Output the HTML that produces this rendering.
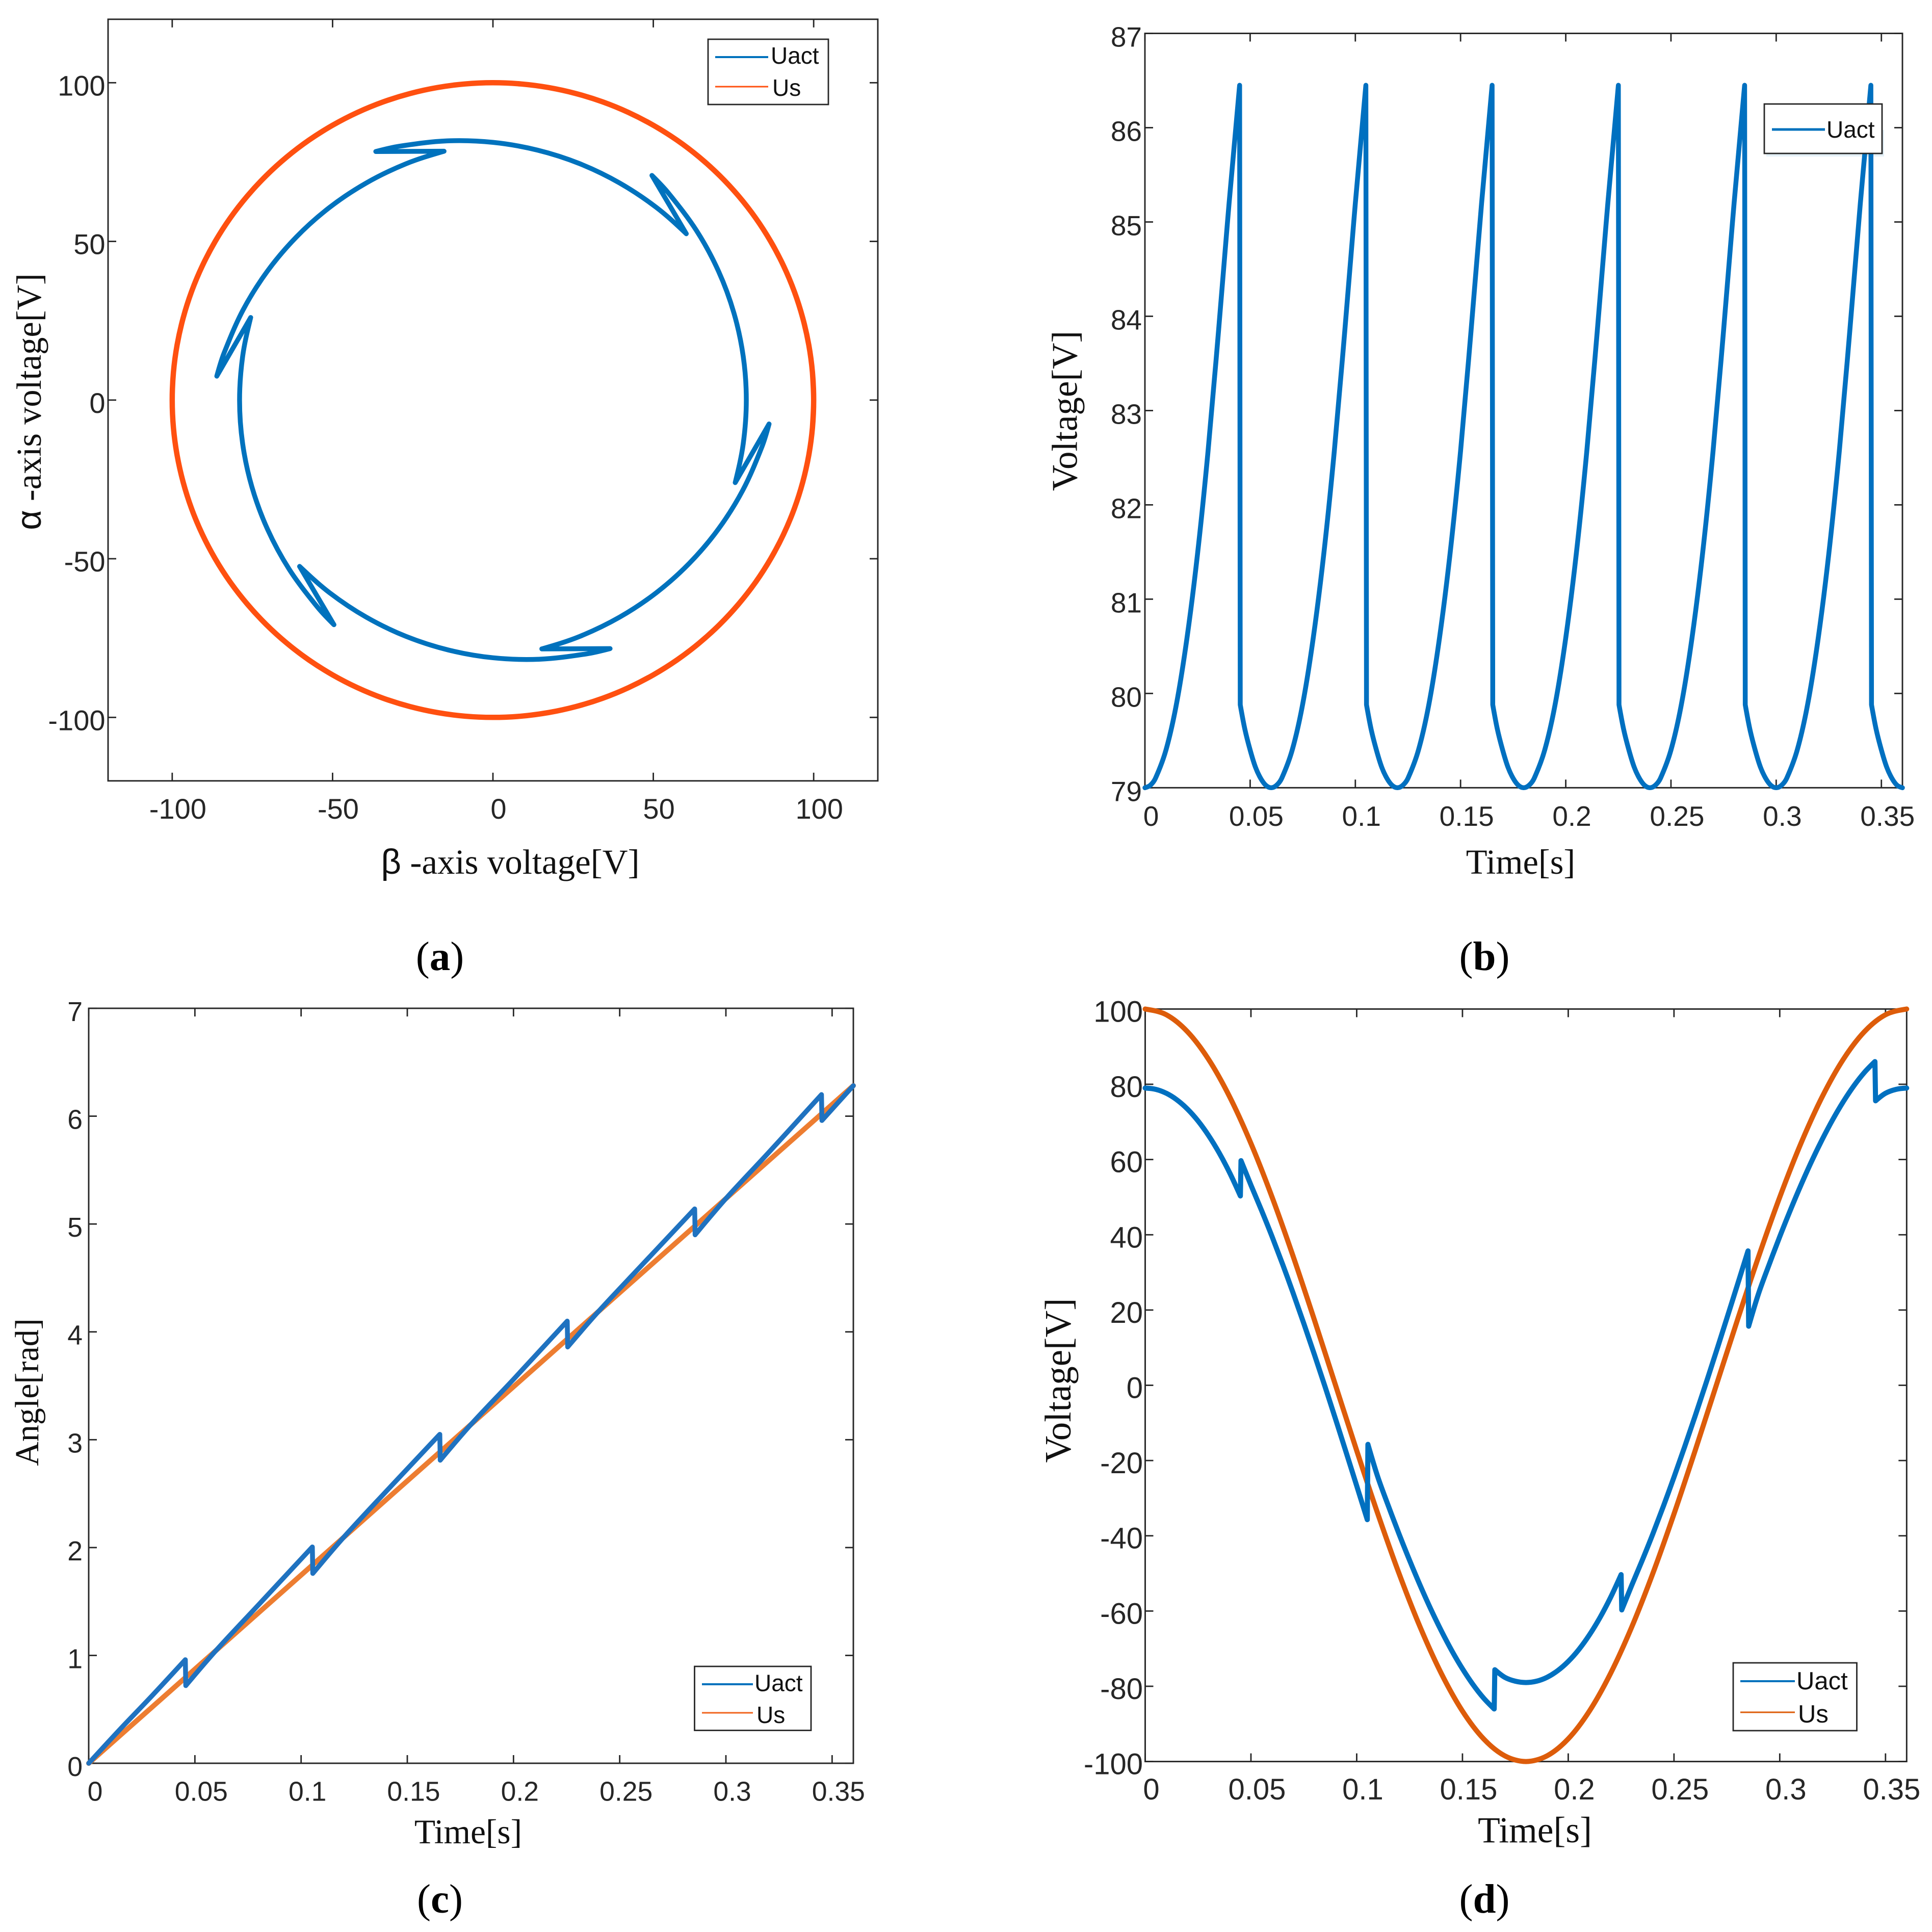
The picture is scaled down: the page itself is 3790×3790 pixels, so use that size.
<!DOCTYPE html>
<html lang="en">
<head>
<meta charset="utf-8">
<title>Voltage vector trajectory, magnitude, angle and alpha-axis voltage</title>
<style>
html,body{margin:0;padding:0;background:#fff;}
svg{display:block;}
.tick-label{font-family:"Liberation Sans",Arial,sans-serif;fill:#262626;}
.axis-title{font-family:"Liberation Serif","Times New Roman",serif;fill:#111;}
.sans{font-family:"Liberation Sans",Arial,sans-serif;}
.legend-text{font-family:"Liberation Sans",Arial,sans-serif;fill:#111;font-size:46px;}
.caption{font-family:"Liberation Serif","Times New Roman",serif;fill:#000;font-size:81px;text-anchor:middle;}
.frame{fill:none;stroke:#262626;stroke-width:2.9;}
.legend-box{fill:#fff;stroke:#262626;stroke-width:2.8;}
</style>
</head>
<body>
<svg id="figure" xmlns="http://www.w3.org/2000/svg" width="3790" height="3790" viewBox="0 0 3790 3790">
  <rect x="0" y="0" width="3790" height="3790" fill="#fff"/>

  <g id="panel-a">
    <rect class="frame" x="212" y="37.8" width="1510" height="1494"/>
    <text class="axis-title" font-size="69" text-anchor="middle" x="1001" y="1714"><tspan class="sans">β</tspan> -axis voltage[V]</text>
    <text class="axis-title" font-size="68.5" text-anchor="middle" transform="translate(80,788) rotate(-90)"><tspan class="sans">α</tspan> -axis voltage[V]</text>
    <text class="caption" x="863" y="1903">(<tspan font-weight="bold">a</tspan>)</text>
  </g>
  <g id="panel-b">
    <rect class="frame" x="2246" y="65.5" width="1486" height="1479.8"/>
    <text class="axis-title" font-size="68.5" text-anchor="middle" x="2983" y="1714">Time[s]</text>
    <text class="axis-title" font-size="71" text-anchor="middle" transform="translate(2112.5,806) rotate(-90)">Voltage[V]</text>
    <text class="caption" x="2912" y="1903">(<tspan font-weight="bold">b</tspan>)</text>
  </g>
  <g id="panel-c">
    <rect class="frame" x="174" y="1978" width="1500" height="1481"/>
    <text class="axis-title" font-size="67.5" text-anchor="middle" x="918.5" y="3616">Time[s]</text>
    <text class="axis-title" font-size="66" text-anchor="middle" transform="translate(75,2731) rotate(-90)">Angle[rad]</text>
    <text class="caption" x="863" y="3752">(<tspan font-weight="bold">c</tspan>)</text>
  </g>
  <g id="panel-d">
    <rect class="frame" x="2246.5" y="1979.4" width="1493.8" height="1476.2"/>
    <text class="axis-title" font-size="71.5" text-anchor="middle" x="3011" y="3614">Time[s]</text>
    <text class="axis-title" font-size="73" text-anchor="middle" transform="translate(2100,2708) rotate(-90)">Voltage[V]</text>
    <text class="caption" x="2912" y="3752">(<tspan font-weight="bold">d</tspan>)</text>
  </g>

  <g id="legends">
    <g>
      <rect class="legend-box" x="1389" y="77" width="236" height="128"/>
      <line x1="1403" y1="112" x2="1507" y2="112" stroke="#0072BD" stroke-width="4"/>
      <text class="legend-text" x="1512" y="125">Uact</text>
      <line x1="1403" y1="170" x2="1507" y2="170" stroke="#FF5010" stroke-width="3"/>
      <text class="legend-text" x="1515" y="188">Us</text>
    </g>
    <g>
      <rect x="3465" y="255" width="231" height="52" fill="#0072BD" fill-opacity="0.1"/>
      <rect class="legend-box" x="3461" y="204" width="231" height="97"/>
      <line x1="3476" y1="254" x2="3580" y2="254" stroke="#0072BD" stroke-width="5"/>
      <text class="legend-text" x="3583" y="270">Uact</text>
    </g>
    <g>
      <rect class="legend-box" x="1362.5" y="3269" width="228.5" height="125.5"/>
      <line x1="1377" y1="3304" x2="1477" y2="3304" stroke="#0072BD" stroke-width="4"/>
      <text class="legend-text" x="1480" y="3317.5">Uact</text>
      <line x1="1377" y1="3360" x2="1477" y2="3360" stroke="#F0641E" stroke-width="3"/>
      <text class="legend-text" x="1484" y="3380">Us</text>
    </g>
    <g>
      <rect class="legend-box" x="3400" y="3262" width="242.5" height="133"/>
      <line x1="3414" y1="3298" x2="3521" y2="3298" stroke="#0072BD" stroke-width="4"/>
      <text class="legend-text" style="font-size:49px" x="3524" y="3314">Uact</text>
      <line x1="3414" y1="3359" x2="3521" y2="3359" stroke="#DD5C0A" stroke-width="3"/>
      <text class="legend-text" style="font-size:49px" x="3527" y="3379">Us</text>
    </g>
  </g>
</svg>

<script>
/* ---- tick labels ---- */
const aXTicks = [-100, -50, 0, 50, 100];
const aYTicks = [-100, -50, 0, 50, 100];
const timeTicks = [0, 0.05, 0.1, 0.15, 0.2, 0.25, 0.3, 0.35];
const bYTicks = [79, 80, 81, 82, 83, 84, 85, 86, 87];
const cYTicks = [0, 1, 2, 3, 4, 5, 6, 7];
const dYTicks = [-100, -80, -60, -40, -20, 0, 20, 40, 60, 80, 100];

/* ---- panel (a): Us circle, beta and alpha voltage ---- */
const aUsBeta = [[99.62, 100, 99.62, 98.48, 96.59, 93.97, 90.63, 86.6, 81.92, 76.6, 70.71, 64.28, 57.36, 50, 42.26, 34.2, 25.88, 17.36, 8.72, 0,
  -8.72, -17.36, -25.88, -34.2, -42.26, -50, -57.36, -64.28, -70.71, -76.6, -81.92, -86.6, -90.63, -93.97, -96.59, -98.48, -99.62, -100,
  -99.62, -98.48, -96.59, -93.97, -90.63, -86.6, -81.92, -76.6, -70.71, -64.28, -57.36, -50, -42.26, -34.2, -25.88, -17.36, -8.72, 0,
  8.72, 17.36, 25.88, 34.2, 42.26, 50, 57.36, 64.28, 70.71, 76.6, 81.92, 86.6, 90.63, 93.97, 96.59, 98.48, 99.62, 100, 99.62]];
const aUsAlpha = [[-8.72, 0, 8.72, 17.36, 25.88, 34.2, 42.26, 50, 57.36, 64.28, 70.71, 76.6, 81.92, 86.6, 90.63, 93.97, 96.59, 98.48, 99.62, 100,
  99.62, 98.48, 96.59, 93.97, 90.63, 86.6, 81.92, 76.6, 70.71, 64.28, 57.36, 50, 42.26, 34.2, 25.88, 17.36, 8.72, 0,
  -8.72, -17.36, -25.88, -34.2, -42.26, -50, -57.36, -64.28, -70.71, -76.6, -81.92, -86.6, -90.63, -93.97, -96.59, -98.48, -99.62, -100,
  -99.62, -98.48, -96.59, -93.97, -90.63, -86.6, -81.92, -76.6, -70.71, -64.28, -57.36, -50, -42.26, -34.2, -25.88, -17.36, -8.72, 0, 8.72]];

/* ---- panel (a): Uact, one inner list per arc between switching jumps ---- */
const aUactBeta = [
  [75.54, 78.04, 79, 78.04, 75.16, 70.33, 63.53, 54.73, 49.57],
  [60.29, 50.94, 39.5, 27.1, 13.89, 0, -14.4, -29.12, -36.53],
  [-15.24, -27.1, -39.5, -50.94, -61.27, -70.33, -77.93, -83.85, -86.1],
  [-75.54, -78.04, -79, -78.04, -75.16, -70.33, -63.53, -54.73, -49.57],
  [-60.29, -50.94, -39.5, -27.1, -13.89, 0, 14.4, 29.12, 36.53],
  [15.24, 27.1, 39.5, 50.94, 61.27, 70.33, 77.93, 83.85, 86.1],
  [75.54]
];
const aUactAlpha = [
  [-26.01, -13.76, 0, 13.76, 27.35, 40.61, 53.31, 65.22, 70.8],
  [52.42, 60.71, 68.41, 74.47, 78.76, 81.21, 81.67, 80, 78.33],
  [78.42, 74.47, 68.41, 60.71, 51.41, 40.61, 28.36, 14.78, 7.53],
  [26.01, 13.76, 0, -13.76, -27.35, -40.61, -53.31, -65.22, -70.8],
  [-52.42, -60.71, -68.41, -74.47, -78.76, -81.21, -81.67, -80, -78.33],
  [-78.42, -74.47, -68.41, -60.71, -51.41, -40.61, -28.36, -14.78, -7.53],
  [-26.01]
];

/* ---- panel (b): Uact magnitude, one inner list per branch between jumps ---- */
const bTime = [
  [0, 0.0025, 0.005, 0.01, 0.015, 0.02, 0.025, 0.03, 0.035, 0.04, 0.045],
  [0.0453, 0.0475, 0.05, 0.0525, 0.055, 0.0575, 0.06, 0.0625, 0.065, 0.07, 0.075, 0.08, 0.085, 0.09, 0.095, 0.1, 0.105],
  [0.1053, 0.1075, 0.11, 0.1125, 0.115, 0.1175, 0.12, 0.1225, 0.125, 0.13, 0.135, 0.14, 0.145, 0.15, 0.155, 0.16, 0.165],
  [0.1653, 0.1675, 0.17, 0.1725, 0.175, 0.1775, 0.18, 0.1825, 0.185, 0.19, 0.195, 0.2, 0.205, 0.21, 0.215, 0.22, 0.225],
  [0.2253, 0.2275, 0.23, 0.2325, 0.235, 0.2375, 0.24, 0.2425, 0.245, 0.25, 0.255, 0.26, 0.265, 0.27, 0.275, 0.28, 0.285],
  [0.2853, 0.2875, 0.29, 0.2925, 0.295, 0.2975, 0.3, 0.3025, 0.305, 0.31, 0.315, 0.32, 0.325, 0.33, 0.335, 0.34, 0.345],
  [0.3453, 0.3475, 0.35, 0.3525, 0.355, 0.3575, 0.36]
];
const bUact = [
  [79, 79.025, 79.1, 79.4, 79.89, 80.59, 81.48, 82.57, 83.85, 85.2, 86.45],
  [79.88, 79.62, 79.4, 79.22, 79.1, 79.025, 79, 79.025, 79.1, 79.4, 79.89, 80.59, 81.48, 82.57, 83.85, 85.2, 86.45],
  [79.88, 79.62, 79.4, 79.22, 79.1, 79.025, 79, 79.025, 79.1, 79.4, 79.89, 80.59, 81.48, 82.57, 83.85, 85.2, 86.45],
  [79.88, 79.62, 79.4, 79.22, 79.1, 79.025, 79, 79.025, 79.1, 79.4, 79.89, 80.59, 81.48, 82.57, 83.85, 85.2, 86.45],
  [79.88, 79.62, 79.4, 79.22, 79.1, 79.025, 79, 79.025, 79.1, 79.4, 79.89, 80.59, 81.48, 82.57, 83.85, 85.2, 86.45],
  [79.88, 79.62, 79.4, 79.22, 79.1, 79.025, 79, 79.025, 79.1, 79.4, 79.89, 80.59, 81.48, 82.57, 83.85, 85.2, 86.45],
  [79.88, 79.62, 79.4, 79.22, 79.1, 79.025, 79]
];

/* ---- panel (c): angle ---- */
const cUsTime = [[0, 0.06, 0.12, 0.18, 0.24, 0.3, 0.36]];
const cUsAngle = [[0, 1.047, 2.094, 3.142, 4.189, 5.236, 6.283]];
const cUactTime = [
  [0, 0.015, 0.03, 0.0455],
  [0.0457, 0.06, 0.08, 0.1053],
  [0.1055, 0.12, 0.14, 0.1653],
  [0.1655, 0.18, 0.2, 0.2253],
  [0.2255, 0.24, 0.26, 0.2853],
  [0.2855, 0.3, 0.32, 0.345],
  [0.3452, 0.36]
];
const cUactAngle = [
  [0, 0.32, 0.63, 0.96],
  [0.72, 1.047, 1.47, 2.006],
  [1.76, 2.094, 2.52, 3.05],
  [2.81, 3.142, 3.56, 4.1],
  [3.86, 4.189, 4.61, 5.14],
  [4.9, 5.236, 5.66, 6.2],
  [5.96, 6.283]
];

/* ---- panel (d): alpha-axis voltage ---- */
const dUsTime = [[0, 0.01, 0.02, 0.03, 0.04, 0.05, 0.06, 0.07, 0.08, 0.09, 0.1, 0.11, 0.12, 0.13, 0.14, 0.15, 0.16, 0.17, 0.18, 0.19, 0.2, 0.21, 0.22, 0.23, 0.24, 0.25, 0.26, 0.27, 0.28, 0.29, 0.3, 0.31, 0.32, 0.33, 0.34, 0.35, 0.36]];
const dUsVoltage = [[100, 98.48, 93.97, 86.6, 76.6, 64.28, 50, 34.2, 17.36, 0, -17.36, -34.2, -50, -64.28, -76.6, -86.6, -93.97, -98.48, -100, -98.48, -93.97, -86.6, -76.6, -64.28, -50, -34.2, -17.36, 0, 17.36, 34.2, 50, 64.28, 76.6, 86.6, 93.97, 98.48, 100]];
const dUactTime = [
  [0, 0.005, 0.01, 0.015, 0.02, 0.025, 0.03, 0.035, 0.04, 0.045],
  [0.0453, 0.05, 0.055, 0.06, 0.065, 0.07, 0.075, 0.08, 0.085, 0.09, 0.095, 0.1, 0.105],
  [0.1053, 0.11, 0.115, 0.12, 0.125, 0.13, 0.135, 0.14, 0.145, 0.15, 0.155, 0.16, 0.165],
  [0.1653, 0.17, 0.175, 0.18, 0.185, 0.19, 0.195, 0.2, 0.205, 0.21, 0.215, 0.22, 0.225],
  [0.2253, 0.23, 0.235, 0.24, 0.245, 0.25, 0.255, 0.26, 0.265, 0.27, 0.275, 0.28, 0.285],
  [0.2853, 0.29, 0.295, 0.3, 0.305, 0.31, 0.315, 0.32, 0.325, 0.33, 0.335, 0.34, 0.345],
  [0.3453, 0.35, 0.355, 0.36]
];
const dUactVoltage = [
  [79, 78.65, 77.61, 75.86, 73.41, 70.25, 66.36, 61.75, 56.41, 50.32],
  [59.7, 53.19, 46.5, 39.5, 32.13, 24.41, 16.41, 8.16, -0.32, -8.99, -17.81, -26.73, -35.71],
  [-15.7, -24.41, -32.11, -39.5, -46.52, -53.19, -59.46, -65.25, -70.57, -75.35, -79.56, -83.14, -86.04],
  [-75.6, -77.61, -78.65, -79, -78.65, -77.61, -75.86, -73.41, -70.25, -66.36, -61.75, -56.41, -50.32],
  [-59.7, -53.19, -46.5, -39.5, -32.13, -24.41, -16.41, -8.16, 0.32, 8.99, 17.81, 26.73, 35.71],
  [15.7, 24.41, 32.11, 39.5, 46.52, 53.19, 59.46, 65.25, 70.57, 75.35, 79.56, 83.14, 86.04],
  [75.6, 77.61, 78.65, 79]
];

/* ---- axis limits ---- */
const aXLimits = [-120, 120];
const aYLimits = [-120, 120];
const timeLimits = [0, 0.36];
const bYLimits = [79, 87];
const cYLimits = [0, 7];
const dYLimits = [-100, 100];

const NS = 'http://www.w3.org/2000/svg';

function linearScale(domain, range) {
  return function (v) {
    return range[0] + (v - domain[0]) * (range[1] - range[0]) / (domain[1] - domain[0]);
  };
}

/* Smooth curve through each branch, straight connector between branches. */
function branchPath(xBranches, yBranches, sx, sy) {
  let d = '';
  xBranches.forEach(function (xs, b) {
    const pts = xs.map(function (x, i) { return [sx(x), sy(yBranches[b][i])]; });
    d += (b === 0 ? 'M' : 'L') + pts[0][0].toFixed(2) + ' ' + pts[0][1].toFixed(2);
    for (let i = 0; i < pts.length - 1; i++) {
      const p0 = pts[Math.max(i - 1, 0)], p1 = pts[i], p2 = pts[i + 1], p3 = pts[Math.min(i + 2, pts.length - 1)];
      const d0 = Math.hypot(p1[0] - p0[0], p1[1] - p0[1]);
      const d1 = Math.hypot(p2[0] - p1[0], p2[1] - p1[1]);
      const d2 = Math.hypot(p3[0] - p2[0], p3[1] - p2[1]);
      const k1 = d1 / (d0 + d1 || 1) / 3;
      const k2 = d1 / (d1 + d2 || 1) / 3;
      let c1x = p1[0] + (p2[0] - p0[0]) * k1, c1y = p1[1] + (p2[1] - p0[1]) * k1;
      let c2x = p2[0] - (p3[0] - p1[0]) * k2, c2y = p2[1] - (p3[1] - p1[1]) * k2;
      /* ease the free ends so the tip segments keep the curve's tangent */
      if (i + 2 >= pts.length) {
        c2x = (c1x + p2[0]) / 2;
        c2y = (c1y + p2[1]) / 2;
      } else if (i === 0) {
        c1x = (c2x + p1[0]) / 2;
        c1y = (c2y + p1[1]) / 2;
      }
      d += 'C' + c1x.toFixed(2) + ' ' + c1y.toFixed(2) + ' ' + c2x.toFixed(2) + ' ' + c2y.toFixed(2) + ' ' + p2[0].toFixed(2) + ' ' + p2[1].toFixed(2);
    }
  });
  return d;
}

function drawTicks(panelId, prefix, box, xTicks, yTicks, sx, sy, style) {
  const g = document.getElementById(panelId);
  const len = style.tickLength;
  xTicks.forEach(function (v) {
    const x = sx(v);
    [[box.bottom, box.bottom - len], [box.top, box.top + len]].forEach(function (ends) {
      const tick = document.createElementNS(NS, 'line');
      tick.setAttribute('x1', x);
      tick.setAttribute('x2', x);
      tick.setAttribute('y1', ends[0]);
      tick.setAttribute('y2', ends[1]);
      tick.setAttribute('stroke', '#262626');
      tick.setAttribute('stroke-width', '2.8');
      
      
      g.appendChild(tick);
    });
    const label = document.createElementNS(NS, 'text');
    label.setAttribute('class', 'tick-label');
    label.setAttribute('font-size', style.fontSize);
    label.setAttribute('text-anchor', 'middle');
    label.setAttribute('x', x + style.xLabelShift);
    label.setAttribute('y', style.xLabelBaseline);
    
    
    label.textContent = String(v);
    g.appendChild(label);
  });
  yTicks.forEach(function (v) {
    const y = sy(v);
    [[box.left, box.left + len], [box.right, box.right - len]].forEach(function (ends) {
      const tick = document.createElementNS(NS, 'line');
      tick.setAttribute('x1', ends[0]);
      tick.setAttribute('x2', ends[1]);
      tick.setAttribute('y1', y);
      tick.setAttribute('y2', y);
      tick.setAttribute('stroke', '#262626');
      tick.setAttribute('stroke-width', '2.8');
      
      
      g.appendChild(tick);
    });
    const label = document.createElementNS(NS, 'text');
    label.setAttribute('class', 'tick-label');
    label.setAttribute('font-size', style.fontSize);
    label.setAttribute('text-anchor', 'end');
    label.setAttribute('x', style.yLabelRight);
    label.setAttribute('y', y + style.yLabelDrop);
    
    
    label.textContent = String(v);
    g.appendChild(label);
  });
}

function drawSeries(panelId, name, xBranches, yBranches, sx, sy, color, width) {
  const path = document.createElementNS(NS, 'path');
  path.setAttribute('d', branchPath(xBranches, yBranches, sx, sy));
  path.setAttribute('fill', 'none');
  path.setAttribute('stroke', color);
  path.setAttribute('stroke-width', width);
  path.setAttribute('stroke-linecap', 'round');
  path.setAttribute('stroke-linejoin', 'round');
  
  
  document.getElementById(panelId).appendChild(path);
}

/* Panel a */
const aBox = { left: 212, right: 1722, top: 37.8, bottom: 1531.8 };
const aSx = linearScale(aXLimits, [aBox.left, aBox.right]);
const aSy = linearScale(aYLimits, [aBox.bottom, aBox.top]);
drawTicks('panel-a', 'panel-a', aBox, aXTicks, aYTicks, aSx, aSy,
  { tickLength: 16, fontSize: 56, xLabelShift: 11, xLabelBaseline: 1606, yLabelRight: 206.5, yLabelDrop: 25 });
drawSeries('panel-a', 'panel-a-us-circle', aUsBeta, aUsAlpha, aSx, aSy, '#FF5010', 10.5);
drawSeries('panel-a', 'panel-a-uact-trajectory', aUactBeta, aUactAlpha, aSx, aSy, '#0072BD', 9.5);

/* Panel b */
const bBox = { left: 2246, right: 3732, top: 65.5, bottom: 1545.3 };
const bSx = linearScale(timeLimits, [bBox.left, bBox.right]);
const bSy = linearScale(bYLimits, [bBox.bottom, bBox.top]);
drawTicks('panel-b', 'panel-b', bBox, timeTicks, bYTicks, bSx, bSy,
  { tickLength: 16, fontSize: 55, xLabelShift: 12, xLabelBaseline: 1620, yLabelRight: 2240, yLabelDrop: 26 });
drawSeries('panel-b', 'panel-b-uact-line', bTime, bUact, bSx, bSy, '#0070C0', 9.5);

/* Panel c */
const cBox = { left: 174, right: 1674, top: 1978, bottom: 3459 };
const cSx = linearScale(timeLimits, [cBox.left, cBox.right]);
const cSy = linearScale(cYLimits, [cBox.bottom, cBox.top]);
drawTicks('panel-c', 'panel-c', cBox, timeTicks, cYTicks, cSx, cSy,
  { tickLength: 16, fontSize: 53.5, xLabelShift: 12.5, xLabelBaseline: 3532.5, yLabelRight: 162, yLabelDrop: 25 });
drawSeries('panel-c', 'panel-c-us-line', cUsTime, cUsAngle, cSx, cSy, '#ED7D31', 10);
drawSeries('panel-c', 'panel-c-uact-line', cUactTime, cUactAngle, cSx, cSy, '#1F72C0', 9.5);

/* Panel d */
const dBox = { left: 2246.5, right: 3740.3, top: 1979.4, bottom: 3455.6 };
const dSx = linearScale(timeLimits, [dBox.left, dBox.right]);
const dSy = linearScale(dYLimits, [dBox.bottom, dBox.top]);
drawTicks('panel-d', 'panel-d', dBox, timeTicks, dYTicks, dSx, dSy,
  { tickLength: 16, fontSize: 58, xLabelShift: 12, xLabelBaseline: 3530, yLabelRight: 2242, yLabelDrop: 25 });
drawSeries('panel-d', 'panel-d-us-line', dUsTime, dUsVoltage, dSx, dSy, '#DD5C0A', 10);
drawSeries('panel-d', 'panel-d-uact-line', dUactTime, dUactVoltage, dSx, dSy, '#0070C0', 10);

/* Keep legends above all series */
const legendGroup = document.getElementById('legends');
legendGroup.parentNode.appendChild(legendGroup);
</script>
</body>
</html>
